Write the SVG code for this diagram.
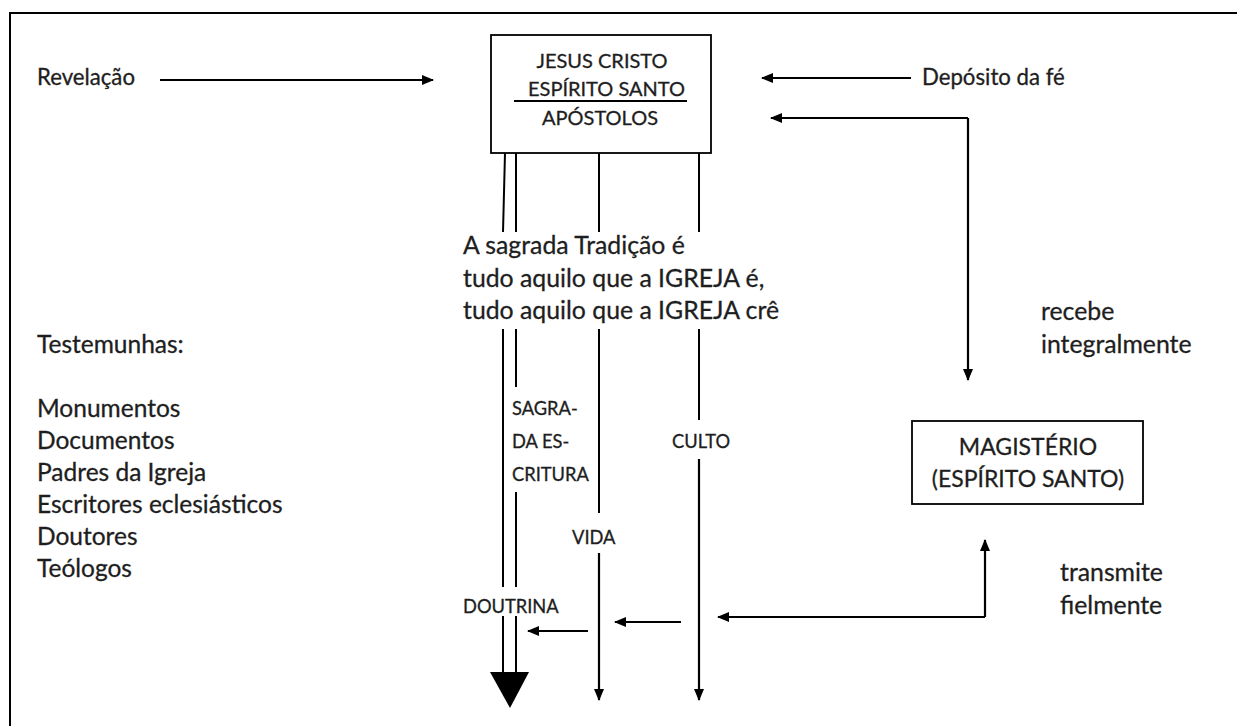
<svg xmlns="http://www.w3.org/2000/svg" width="1237" height="726" viewBox="0 0 1237 726">
<style>
text{font-family:Lato,"Open Sans","Liberation Sans",sans-serif;fill:#1e1e1e;stroke:#1e1e1e;stroke-width:0.3}
.b{font-size:20px}
.t{font-size:22.2px}
.m{font-size:24.8px}
.l{font-size:24.5px}
.g{font-size:23px}
.s{font-size:18.3px}
.c{text-anchor:middle}
.ln{stroke:#000;stroke-width:2;fill:none}
.ar{stroke:#000;stroke-width:2.2;fill:none;marker-end:url(#ah)}
.box{fill:#fff;stroke:#000;stroke-width:1.8}
</style>
<defs>
<marker id="ah" markerWidth="12" markerHeight="10" refX="11" refY="5" orient="auto" markerUnits="userSpaceOnUse">
<path d="M0,0 L12,5 L0,10 Z" fill="#000"/>
</marker>
</defs>
<rect width="1237" height="726" fill="#fff"/>
<path class="ln" d="M10,726 V13 H1237" stroke-width="2.2"/>

<g id="connectors">
<path class="ar" d="M160,80 H433"/>
<path class="ar" d="M911,78 H762"/>
<path class="ar" d="M968,118 H771"/>
<path class="ar" d="M968,118 V380"/>
<path class="ln" d="M505,153 L503,232 M503,329 V587 M503,616 V672"/>
<path class="ln" d="M516,153 V232 M516,329 V387 M516,492 V587 M516,616 V672"/>
<path d="M490,672 H529 L510,708 Z" fill="#000"/>
<path class="ln" d="M599,153 V232 M599,329 V513"/>
<path class="ar" d="M599,553 V700"/>
<path class="ln" d="M699,153 V232 M699,329 V420"/>
<path class="ar" d="M699,459 V700"/>
<path class="ar" d="M588,631 H528"/>
<path class="ar" d="M681,622 H615"/>
<path class="ar" d="M985,617 H718"/>
<path class="ar" d="M985,617 V540"/>
</g>

<g id="source">
<rect class="box" x="491" y="35" width="220" height="118"/>
<text class="b c" x="602" y="68">JESUS CRISTO</text>
<text class="b c" x="606.5" y="96">ESPÍRITO SANTO</text>
<line x1="514" y1="101" x2="687" y2="101" stroke="#000" stroke-width="1.8"/>
<text class="b c" x="600" y="125">APÓSTOLOS</text>
</g>

<g id="magisterio">
<rect class="box" x="912" y="421" width="231" height="83"/>
<text class="g c" x="1028" y="455">MAGISTÉRIO</text>
<text class="g c" x="1028" y="487">(ESPÍRITO SANTO)</text>
</g>

<g id="revelacao"><text class="t" x="37" y="85">Revelação</text></g>
<g id="deposito"><text class="t" x="922" y="85">Depósito da fé</text></g>

<g id="tradicao">
<text class="m" x="463" y="254">A sagrada Tradição é</text>
<text class="m" x="463" y="287">tudo aquilo que a IGREJA é,</text>
<text class="m" x="463" y="319">tudo aquilo que a IGREJA crê</text>
</g>

<g id="testemunhas">
<text class="l" x="37" y="353">Testemunhas:</text>
<text class="l" x="37" y="417">Monumentos</text>
<text class="l" x="37" y="449">Documentos</text>
<text class="l" x="37" y="481">Padres da Igreja</text>
<text class="l" x="37" y="513">Escritores eclesiásticos</text>
<text class="l" x="37" y="545">Doutores</text>
<text class="l" x="37" y="577">Teólogos</text>
</g>

<g id="escritura">
<text class="s" x="512" y="415">SAGRA-</text>
<text class="s" x="512" y="448">DA ES-</text>
<text class="s" x="512" y="481">CRITURA</text>
</g>
<g id="culto"><text class="s" x="672" y="448">CULTO</text></g>
<g id="vida"><text class="s" x="572" y="544">VIDA</text></g>
<g id="doutrina"><text class="s" x="463" y="613">DOUTRINA</text></g>

<g id="recebe">
<text class="m" x="1041" y="320">recebe</text>
<text class="m" x="1041" y="353">integralmente</text>
</g>
<g id="transmite">
<text class="m" x="1060" y="581">transmite</text>
<text class="m" x="1060" y="614">fielmente</text>
</g>
</svg>
